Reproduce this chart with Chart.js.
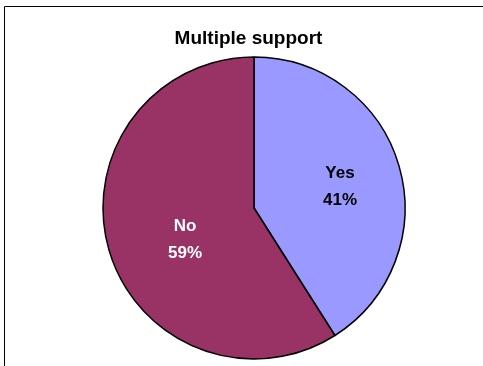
<!DOCTYPE html>
<html>
<head>
<meta charset="utf-8">
<script src="https://cdn.jsdelivr.net/npm/chart.js@4/dist/chart.umd.min.js"></script>
<style>
  html, body { margin: 0; padding: 0; background: #fff; }
  canvas { display: block; }
</style>
</head>
<body>
<canvas id="supportChart" width="483" height="366"></canvas>
<script>
// данные диаграммы
const categories = ['Yes', 'No'];
const shares = [41, 59];
const sliceColors = ['#9999FF', '#993366'];
const labelColors = ['#000000', '#FFFFFF'];
const chartTitle = 'Multiple support';

// небольшой сдвиг подписей относительно середины сектора
const labelNudge = [[13.5, 0], [3.5, 11]];

const FONT = '"Liberation Sans", Arial, sans-serif';

// рамка области и заголовок
const framePlugin = {
  id: 'frame',
  afterDraw(chart) {
    const ctx = chart.ctx;
    ctx.save();
    ctx.strokeStyle = '#000';
    ctx.lineWidth = 1;
    ctx.beginPath();
    ctx.moveTo(4.5, chart.height);
    ctx.lineTo(4.5, 6.5);
    ctx.lineTo(chart.width, 6.5);
    ctx.stroke();

    ctx.fillStyle = '#000';
    ctx.font = 'bold 19px ' + FONT;
    ctx.textAlign = 'center';
    ctx.textBaseline = 'alphabetic';
    ctx.fillText(chartTitle, 248.5, 44);
    ctx.restore();
  }
};

// подписи внутри секторов: категория и процент
const sliceLabels = {
  id: 'sliceLabels',
  afterDatasetsDraw(chart) {
    const ctx = chart.ctx;
    const meta = chart.getDatasetMeta(0);
    ctx.save();
    ctx.font = 'bold 17px ' + FONT;
    ctx.textAlign = 'center';
    ctx.textBaseline = 'middle';
    meta.data.forEach((arc, i) => {
      const pos = arc.tooltipPosition();
      const x = pos.x + labelNudge[i][0];
      const y = pos.y + labelNudge[i][1];
      ctx.fillStyle = labelColors[i];
      ctx.fillText(categories[i], x, y - 13.5);
      ctx.fillText(shares[i] + '%', x, y + 13.5);
    });
    ctx.restore();
  }
};

new Chart(document.getElementById('supportChart'), {
  type: 'pie',
  data: {
    labels: categories,
    datasets: [{
      data: shares,
      backgroundColor: sliceColors,
      borderColor: '#000',
      borderWidth: 1.5,
      radius: 151
    }]
  },
  options: {
    responsive: false,
    devicePixelRatio: 1,
    animation: false,
    events: [],
    layout: {
      padding: { left: 25, right: 0, top: 50, bottom: 0 }
    },
    plugins: {
      legend: { display: false },
      title: { display: false },
      tooltip: { enabled: false }
    }
  },
  plugins: [framePlugin, sliceLabels]
});
</script>
</body>
</html>
